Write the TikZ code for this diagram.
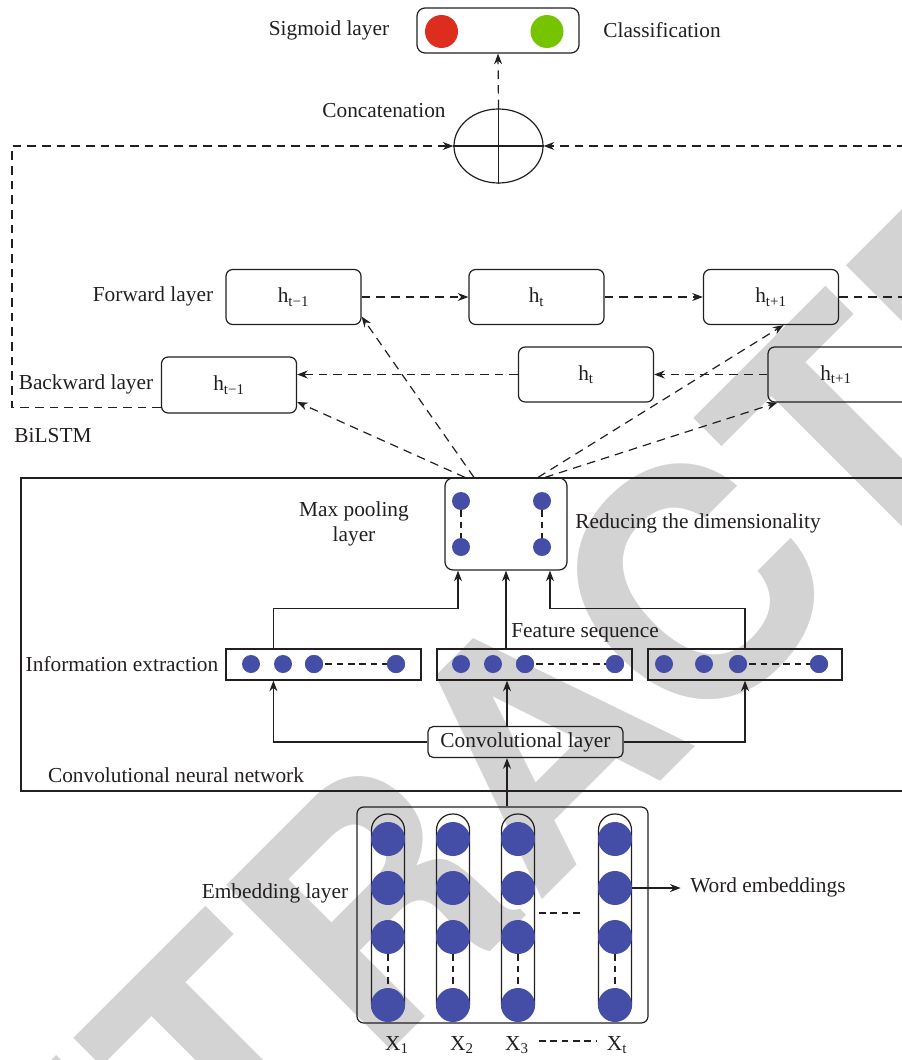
\documentclass[tikz,border=0pt]{standalone}
\usepackage{fontspec}
\setmainfont{Liberation Serif}
\newfontfamily\wmfont{TeX Gyre Heros}
\usetikzlibrary{arrows.meta,shapes.geometric,calc}
\definecolor{linec}{RGB}{35,31,32}
\definecolor{dotblue}{RGB}{69,78,166}
\definecolor{sigred}{RGB}{220,45,30}
\definecolor{siggreen}{RGB}{118,196,0}
\definecolor{wmgray}{RGB}{211,211,211}
\begin{document}
\begin{tikzpicture}[x=0.75pt,y=-0.75pt,
  every node/.style={font=\fontsize{16pt}{18.75pt}\selectfont, text=linec},
  lbl/.style={inner sep=0pt},
  hbox/.style={draw=linec, line width=0.9pt, rounded corners=5pt, minimum width=101.25pt, minimum height=41.25pt, inner sep=0pt},
  plainline/.style={draw=linec, line width=0.9pt},
  sarrow/.style={plainline, -{Stealth[length=8pt,width=6pt]}},
  darrow/.style={plainline, dash pattern=on 6.5pt off 4.5pt, -{Stealth[length=8pt,width=6pt]}},
  dotdash/.style={plainline, dash pattern=on 5pt off 3.5pt},
  bigdot/.style={circle, fill=dotblue, inner sep=0pt, minimum size=25.5pt},
  smalldot/.style={circle, fill=dotblue, inner sep=0pt, minimum size=13.5pt},
  fbox/.style={draw=linec, line width=0.9pt, inner sep=0pt, minimum height=23.25pt},
]
\useasboundingbox (0,0) rectangle (902,1060);
% watermark
\node[inner sep=0pt, rotate=45, text=wmgray, font=\wmfont\bfseries\fontsize{240pt}{240pt}\selectfont] (wm) at (532,745) {RETRACTED};

% ---------- top: sigmoid + concatenation ----------
\node[draw=linec, line width=0.9pt, rounded corners=6pt, minimum width=121.5pt, minimum height=33.75pt, inner sep=0pt] (sig) at (498,30.5) {};
\node[circle, fill=sigred, inner sep=0pt, minimum size=24.75pt] (redc) at (441.5,31.5) {};
\node[circle, fill=siggreen, inner sep=0pt, minimum size=24.75pt] (greenc) at (547,31.5) {};
\node[lbl] (sigl) at (329,30) {Sigmoid layer};
\node[lbl] (cls) at (662,30) {Classification};
\node[ellipse, draw=linec, line width=0.9pt, minimum width=66.75pt, minimum height=55.5pt, inner sep=0pt] (concat) at (498.5,146) {};
\draw[plainline] (concat.north) -- (concat.south);
\draw[plainline] (concat.west) -- (concat.east);
\node[lbl] (catl) at (384,111) {Concatenation};
\draw[darrow] (concat.north) -- (sig.south);

% ---------- BiLSTM ----------
\node[hbox] (fhm1) at (293.5,297) {h\textsubscript{t−1}};
\node[hbox] (fh0) at (536.5,297) {h\textsubscript{t}};
\node[hbox] (fhp1) at (771,297) {h\textsubscript{t+1}};
\node[hbox, minimum height=42pt] (bhm1) at (229,385) {h\textsubscript{t−1}};
\node[hbox] (bh0) at (586,374.5) {h\textsubscript{t}};
\node[hbox, minimum width=108pt] (bhp1) at (840,374.5) {};
\node[lbl] (bhp1t) at (836,374.5) {h\textsubscript{t+1}};
\node[lbl] (fwl) at (153,296) {Forward layer};
\node[lbl] (bwl) at (86,384) {Backward layer};
\node[lbl] (bil) at (53,436) {BiLSTM};

\draw[darrow] (fhm1.east) -- (fh0.west);
\draw[darrow] (fh0.east) -- (fhp1.west);
\draw[darrow] (fhp1.east) -- ++(90,0) |- (concat.east);
\draw[darrow] (bhp1.west) -- (bh0.east);
\draw[darrow] (bh0.west) -- (bh0.west -| bhm1.east);
\coordinate (cl) at (12,300);
\draw[darrow] (bhm1.-162) -| (cl) |- (concat.west);

% ---------- CNN ----------
\draw[plainline] (930,478) -- (21,478) -- (21,791) -- (930,791);
\node[lbl] (cnnl) at (176,775) {Convolutional neural network};

\node[draw=linec, line width=0.9pt, rounded corners=6pt, minimum width=91.5pt, minimum height=69pt, inner sep=0pt] (mp) at (506,524) {};
\node[smalldot] (q1) at (461,501) {};
\node[smalldot] (q2) at (542,501) {};
\node[smalldot] (q3) at (461,547) {};
\node[smalldot] (q4) at (542,547) {};
\draw[dotdash] (q1) -- (q3);
\draw[dotdash] (q2) -- (q4);
\node[lbl, align=center] (mpl) at (354,524) {Max pooling\\layer};
\node[lbl] (rdl) at (698,523) {Reducing the dimensionality};

\path (mp.north) ++(-32,0) coordinate (m1);
\path (mp.north) ++(-41,0) coordinate (m2);
\path (mp.north) ++(32,0) coordinate (m3);
\path (mp.north) ++(39,0) coordinate (m4);
\draw[darrow] (m1) -- (fhm1.-16);
\draw[darrow] (m2) -- (bhm1.-14);
\draw[darrow] (m3) -- (fhp1.-66);
\draw[darrow] (m4) -- ($(bhp1.south west)+(10,0)$);

\node[fbox, minimum width=146.25pt] (fs1) at (323.5,664.5) {};
\node[fbox, minimum width=146.25pt] (fs2) at (534.5,664.5) {};
\node[fbox, minimum width=145.5pt] (fs3) at (745,664.5) {};
\foreach \b/\xa/\xb/\xc/\xd in {1/251/283/314/396, 2/461/493/525/615, 3/664/704/738/819} {
  \node[smalldot] (f\b a) at (\xa,664) {};
  \node[smalldot] (f\b b) at (\xb,664) {};
  \node[smalldot] (f\b c) at (\xc,664) {};
  \node[smalldot] (f\b d) at (\xd,664) {};
  \draw[dotdash] (f\b c.center) -- (f\b d.center);
  \node[smalldot] at (f\b c) {};
  \node[smalldot] at (f\b d) {};
}
\node[lbl] (iel) at (122,664) {Information extraction};
\node[lbl] (fsl) at (585,633) {Feature sequence};

\node[draw=linec, line width=0.9pt, rounded corners=4pt, minimum width=146.25pt, minimum height=23.25pt, inner sep=0pt] (conv) at (525.5,742) {Convolutional layer};

\coordinate (vx) at (507,0);
\path (fs1.north west) ++(48,0) coordinate (fs1t);
\path (fs1.south west) ++(48,0) coordinate (fs1b);
\path (mp.south) ++(-48,0) coordinate (mpL);
\path (mp.south) ++(44,0) coordinate (mpR);
\draw[sarrow] (fs1t) -- ++(0,-40) -| (mpL);
\draw[sarrow] (mp.south |- fs2.north) -- (mp.south);
\draw[sarrow] (fs3.north) -- ++(0,-40) -| (mpR);
\draw[sarrow] (conv.west) -| (fs1b);
\draw[sarrow] (conv.north -| vx) -- (fs2.south -| vx);
\draw[sarrow] (conv.east) -| (fs3.south);

% ---------- Embedding ----------
\node[draw=linec, line width=0.9pt, rounded corners=5pt, minimum width=218.25pt, minimum height=162pt, inner sep=0pt] (emb) at (502.5,915) {};
\draw[sarrow] (emb.north -| vx) -- (conv.south -| vx);
\foreach \c/\x in {1/388,2/453,3/518,4/615} {
  \node[draw=linec, line width=0.9pt, rounded corners=12pt, minimum width=24.75pt, minimum height=154.5pt, inner sep=0pt] (p\c) at (\x,917) {};
  \node[bigdot] (d\c1) at (\x,839) {};
  \node[bigdot] (d\c2) at (\x,888) {};
  \node[bigdot] (d\c3) at (\x,937) {};
  \node[bigdot] (d\c4) at (\x,1005) {};
  \draw[dotdash] (d\c3) -- (d\c4);
}
\draw[dotdash] ($(p3.east)+(4,-4)$) -- ($(p4.west)+(-15,-4)$);
\node[lbl] (embl) at (275,893) {Embedding layer};
\node[lbl, anchor=west] (we) at (690,887) {Word embeddings};
\draw[sarrow, shorten >=7pt] (d42.east) -- (d42.east -| we.west);

\node[lbl] (x1) at (397,1045) {X\textsubscript{1}};
\node[lbl] (x2) at (462,1045) {X\textsubscript{2}};
\node[lbl] (x3) at (517,1045) {X\textsubscript{3}};
\node[lbl] (xt) at (617,1045) {X\textsubscript{t}};
\draw[dotdash] ($(x3.east)+(10,-4)$) -- ($(xt.west)+(-10,-4)$);
\end{tikzpicture}
\end{document}
